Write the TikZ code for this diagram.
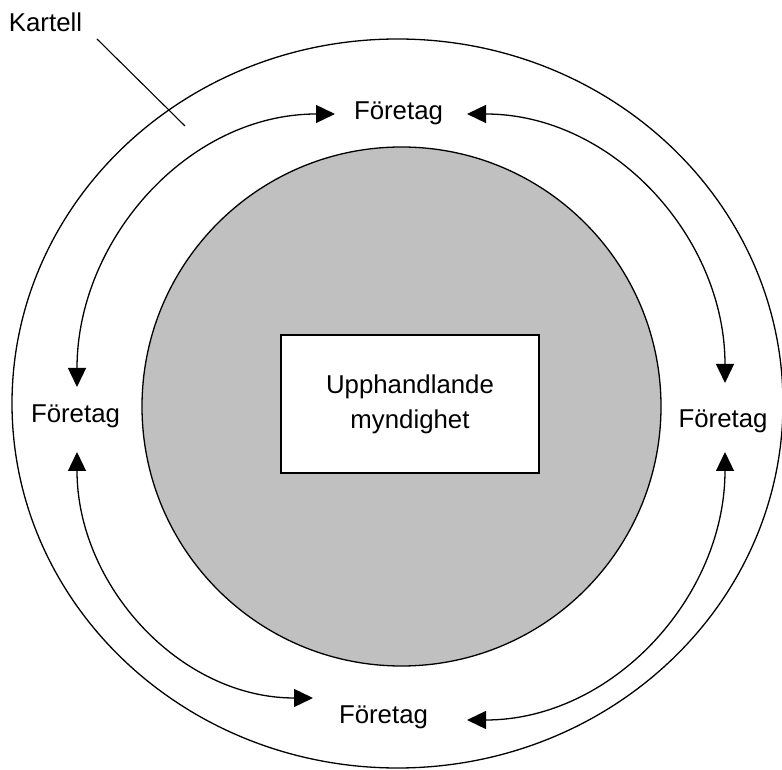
\documentclass[tikz,border=0pt]{standalone}
\usepackage{fontspec}
\setmainfont{Liberation Sans}
\usetikzlibrary{arrows.meta}
\definecolor{fillgray}{HTML}{C0C0C0}
\begin{document}
\begin{tikzpicture}[x=1pt,y=1pt,
  line/.style={line width=1.3pt},
  lbl/.style={font=\fontsize{25.8}{35}\selectfont, inner sep=0pt, anchor=base},
  conn/.style={line, {Triangle[length=19pt,width=18pt]}-{Triangle[length=19pt,width=18pt]}}]
\useasboundingbox (0,0) rectangle (782,769);
% outer ellipse (Kartell)
\draw[line] (397.5,365.5) ellipse [x radius=385.5, y radius=364.5];
% inner grey circle
\draw[line, fill=fillgray] (401.5,362.5) circle [radius=259.5];
% central box
\node[line width=1.6pt, draw, fill=white, minimum width=258pt, minimum height=138pt, align=center,
      font=\fontsize{25.8}{35}\selectfont] (box) at (410,365) {Upphandlande\\myndighet};
% labels
\node[lbl] (FT) at (398.5,649) {Företag};
\node[lbl] (FL) at (75.5,346) {Företag};
\node[lbl] (FR) at (723,341) {Företag};
\node[lbl] (FB) at (383.5,46) {Företag};
\node[lbl] (K) at (45.5,737) {Kartell};
% arrow end points
\coordinate (l1) at (77,382);
\coordinate (t1) at (335,655);
\coordinate (t2) at (467,655);
\coordinate (r1) at (725,386);
\coordinate (r2) at (725,317);
\coordinate (b2) at (467,49);
\coordinate (b1) at (313,71);
\coordinate (l2) at (77,317);
\draw[conn] (l1) to[out=90,in=180] (t1);
\draw[conn] (t2) to[out=0,in=90] (r1);
\draw[conn] (r2) to[out=-90,in=0] (b2);
\draw[conn] (b1) to[out=180,in=-90] (l2);
% Kartell pointer
\coordinate (k1) at (97,730);
\coordinate (k2) at (185,643);
\draw[line width=1.1pt] (k1) -- (k2);
\end{tikzpicture}
\end{document}
